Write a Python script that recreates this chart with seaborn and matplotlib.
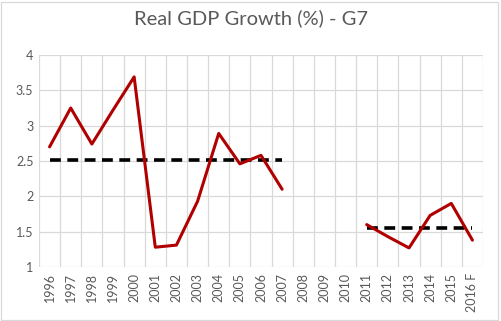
import matplotlib
matplotlib.use("Agg")
import matplotlib.pyplot as plt
import seaborn as sns
import pandas as pd
import numpy as np
from matplotlib.patches import Rectangle

categories = ["1996", "1997", "1998", "1999", "2000", "2001", "2002", "2003", "2004",
              "2005", "2006", "2007", "2008", "2009", "2010", "2011", "2012", "2013",
              "2014", "2015", "2016 F"]
years_a = ["1996", "1997", "1998", "1999", "2000", "2001", "2002", "2003", "2004",
           "2005", "2006", "2007"]
growth_a = [2.70, 3.25, 2.74, 3.22, 3.69, 1.28, 1.31, 1.93, 2.89, 2.46, 2.58, 2.10]
years_b = ["2011", "2012", "2013", "2014", "2015", "2016 F"]
growth_b = [1.60, 1.43, 1.27, 1.73, 1.90, 1.38]
avg_a = [2.51] * len(years_a)
avg_b = [1.55] * len(years_b)

sns.set_style("white")
plt.rcParams['font.family'] = ['Lato', 'DejaVu Sans']

fig = plt.figure(figsize=(5.01, 3.21), dpi=100)
ax = fig.add_axes([39 / 501, 1 - 267 / 321, (483 - 39) / 501, (267 - 55) / 321])

pos = {c: i for i, c in enumerate(categories)}
df_a = pd.DataFrame({"x": [pos[y] for y in years_a], "g": growth_a, "avg": avg_a})
df_b = pd.DataFrame({"x": [pos[y] for y in years_b], "g": growth_b, "avg": avg_b})

red = "#b00000"
for df in (df_a, df_b):
    sns.lineplot(data=df, x="x", y="avg", ax=ax, color="black", lw=2.6,
                 linestyle=(0, (3.0, 1.8)), estimator=None)
    sns.lineplot(data=df, x="x", y="g", ax=ax, color=red, lw=2.2, estimator=None)

ax.set_xlim(-0.5, len(categories) - 0.5)
ax.set_ylim(1, 4)
ax.set_yticks(np.arange(1, 4.01, 0.5))
ax.set_yticklabels(["1", "1.5", "2", "2.5", "3", "3.5", "4"])
ax.set_xticks(range(len(categories)))
ax.set_xticklabels(categories, rotation=90)
ax.set_xticks(np.arange(-0.5, len(categories), 1), minor=True)
ax.grid(False)
ax.grid(True, which="minor", axis="x", color="#d9d9d9", lw=0.9)
ax.grid(True, which="major", axis="y", color="#d9d9d9", lw=0.9)
ax.set_axisbelow(True)
ax.tick_params(axis="both", which="both", length=0, labelsize=9, colors="#595959", pad=4)
ax.set_xlabel("")
ax.set_ylabel("")
for s in ax.spines.values():
    s.set_visible(False)

fig.text(0.5, 1 - 18 / 321, "Real GDP Growth (%) - G7", ha="center", va="center",
         fontsize=14.5, color="#595959")
fig.patches.append(Rectangle((1 / 501, 1 / 321), 497 / 501, 318 / 321, transform=fig.transFigure,
                             fill=False, edgecolor="#d9d9d9", lw=0.9))

fig.savefig("out.png", dpi=100)
